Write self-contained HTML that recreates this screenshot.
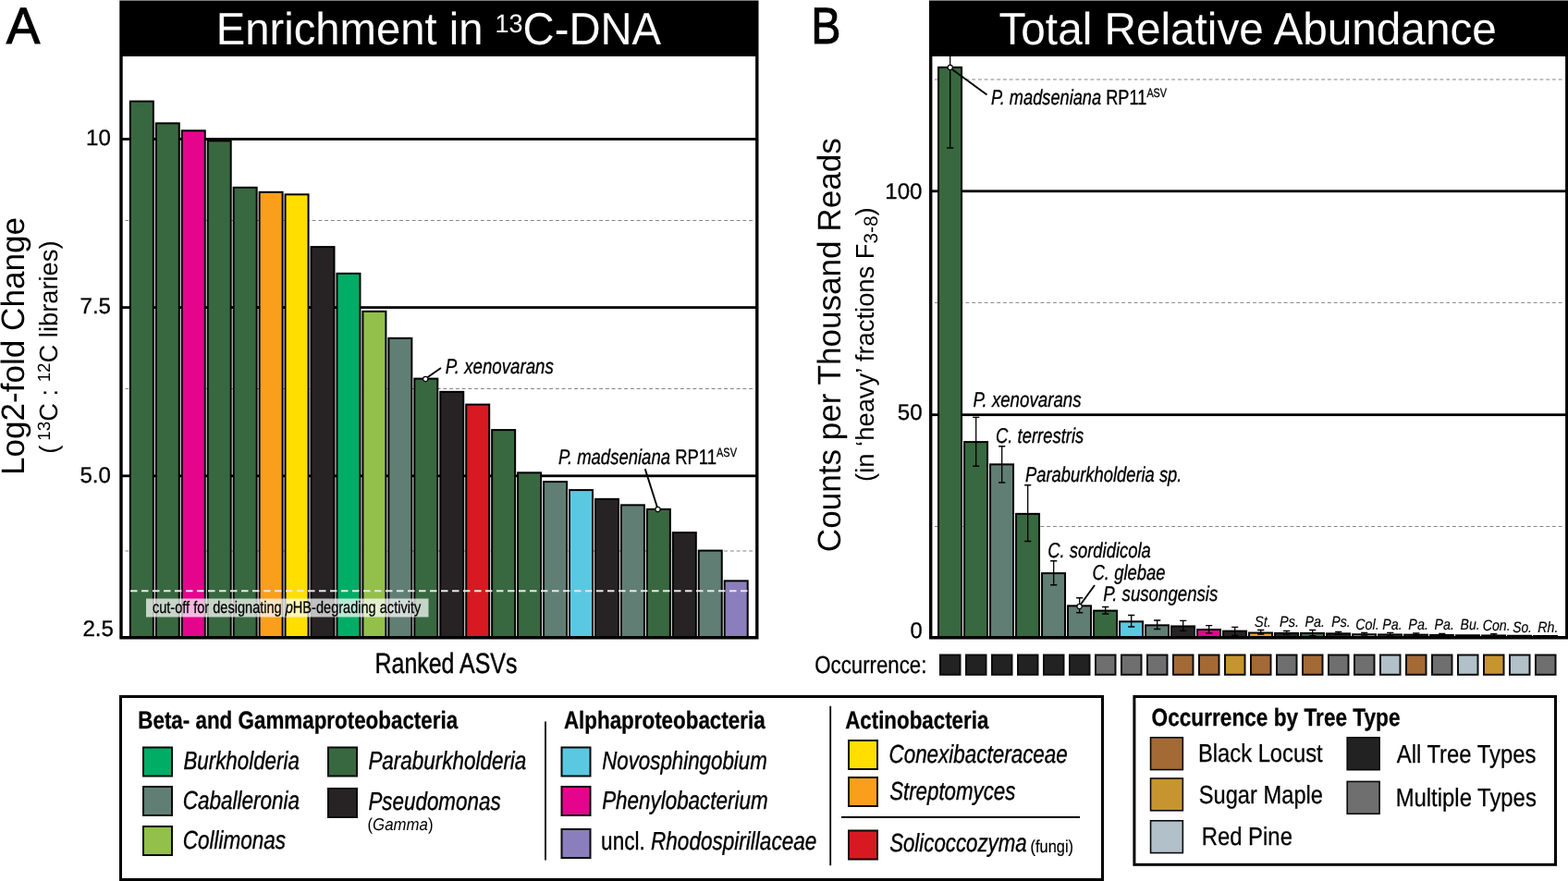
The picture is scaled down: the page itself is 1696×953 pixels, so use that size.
<!DOCTYPE html>
<html lang="en"><head><meta charset="utf-8"><title>Enrichment in 13C-DNA and Total Relative Abundance</title>
<style>
html,body{margin:0;padding:0;background:#fff;}
body{width:1696px;height:953px;overflow:hidden;}
svg{display:block;font-family:'Liberation Sans', sans-serif;}
text{white-space:pre;text-rendering:geometricPrecision;}
</style></head><body>
<svg width="1696" height="953" viewBox="0 0 1696 953">
<rect width="1696" height="953" fill="#fff"/>
<rect x="130.3" y="149.10" width="689.2" height="2.8" fill="#000"/>
<rect x="130.3" y="331.20" width="689.2" height="2.8" fill="#000"/>
<rect x="130.3" y="513.40" width="689.2" height="2.8" fill="#000"/>
<line x1="814.05" y1="238.5" x2="135.5" y2="238.5" stroke="#858585" stroke-width="1" stroke-dasharray="3.9 2.85"/>
<line x1="814.05" y1="420.5" x2="135.5" y2="420.5" stroke="#858585" stroke-width="1" stroke-dasharray="3.9 2.85"/>
<line x1="814.05" y1="596.0" x2="135.5" y2="596.0" stroke="#858585" stroke-width="1" stroke-dasharray="3.9 2.85"/>
<rect x="140.85" y="109.60" width="25.00" height="579.90" fill="#38683f" stroke="#000" stroke-width="2.0"/>
<rect x="168.80" y="133.35" width="25.00" height="556.15" fill="#38683f" stroke="#000" stroke-width="2.0"/>
<rect x="196.75" y="141.35" width="25.00" height="548.15" fill="#e5058d" stroke="#000" stroke-width="2.0"/>
<rect x="224.70" y="152.35" width="25.00" height="537.15" fill="#38683f" stroke="#000" stroke-width="2.0"/>
<rect x="252.65" y="202.85" width="25.00" height="486.65" fill="#38683f" stroke="#000" stroke-width="2.0"/>
<rect x="280.60" y="207.85" width="25.00" height="481.65" fill="#f99f1c" stroke="#000" stroke-width="2.0"/>
<rect x="308.55" y="210.35" width="25.00" height="479.15" fill="#ffde00" stroke="#000" stroke-width="2.0"/>
<rect x="336.50" y="267.10" width="25.00" height="422.40" fill="#272324" stroke="#000" stroke-width="2.0"/>
<rect x="364.45" y="295.85" width="25.00" height="393.65" fill="#00ad66" stroke="#000" stroke-width="2.0"/>
<rect x="392.40" y="336.85" width="25.00" height="352.65" fill="#93bf4b" stroke="#000" stroke-width="2.0"/>
<rect x="420.35" y="365.85" width="25.00" height="323.65" fill="#617e75" stroke="#000" stroke-width="2.0"/>
<rect x="448.30" y="409.60" width="25.00" height="279.90" fill="#38683f" stroke="#000" stroke-width="2.0"/>
<rect x="476.25" y="423.85" width="25.00" height="265.65" fill="#272324" stroke="#000" stroke-width="2.0"/>
<rect x="504.20" y="437.60" width="25.00" height="251.90" fill="#d71a21" stroke="#000" stroke-width="2.0"/>
<rect x="532.15" y="465.10" width="25.00" height="224.40" fill="#38683f" stroke="#000" stroke-width="2.0"/>
<rect x="560.10" y="511.35" width="25.00" height="178.15" fill="#38683f" stroke="#000" stroke-width="2.0"/>
<rect x="588.05" y="521.10" width="25.00" height="168.40" fill="#617e75" stroke="#000" stroke-width="2.0"/>
<rect x="616.00" y="530.10" width="25.00" height="159.40" fill="#5bc8e2" stroke="#000" stroke-width="2.0"/>
<rect x="643.95" y="539.85" width="25.00" height="149.65" fill="#272324" stroke="#000" stroke-width="2.0"/>
<rect x="671.90" y="546.35" width="25.00" height="143.15" fill="#617e75" stroke="#000" stroke-width="2.0"/>
<rect x="699.85" y="550.85" width="25.00" height="138.65" fill="#38683f" stroke="#000" stroke-width="2.0"/>
<rect x="727.80" y="576.10" width="25.00" height="113.40" fill="#272324" stroke="#000" stroke-width="2.0"/>
<rect x="755.75" y="595.60" width="25.00" height="93.90" fill="#617e75" stroke="#000" stroke-width="2.0"/>
<rect x="783.70" y="628.35" width="25.00" height="61.15" fill="#8b7ebc" stroke="#000" stroke-width="2.0"/>
<line x1="141" y1="639.3" x2="809" y2="639.3" stroke="#e8e8e8" stroke-width="2" stroke-dasharray="7.5 4.5"/>
<rect x="158" y="647.5" width="305.5" height="20" fill="#fff" fill-opacity="0.72"/>
<path fill-rule="evenodd" fill="#000" d="M129.3 0.6H820.5V691.5H129.3Z M132.70000000000002 61V688.0H817.1V61Z"/>
<line x1="477" y1="398" x2="460.5" y2="409.5" stroke="#000" stroke-width="1.9"/>
<circle cx="460.25" cy="410" r="2.6" fill="#fff" stroke="#000" stroke-width="1.1"/>
<line x1="697.75" y1="507.25" x2="711.5" y2="550.5" stroke="#000" stroke-width="1.9"/>
<circle cx="711.5" cy="551" r="2.6" fill="#fff" stroke="#000" stroke-width="1.1"/>
<rect x="1006" y="205.40" width="689.5" height="2.8" fill="#000"/>
<rect x="1006" y="447.30" width="689.5" height="2.8" fill="#000"/>
<line x1="1689.6" y1="86.0" x2="1011" y2="86.0" stroke="#858585" stroke-width="1" stroke-dasharray="3.9 2.85"/>
<line x1="1689.6" y1="327.4" x2="1011" y2="327.4" stroke="#858585" stroke-width="1" stroke-dasharray="3.9 2.85"/>
<line x1="1689.6" y1="569.5" x2="1011" y2="569.5" stroke="#858585" stroke-width="1" stroke-dasharray="3.9 2.85"/>
<rect x="1015.05" y="72.85" width="25.00" height="616.65" fill="#38683f" stroke="#000" stroke-width="2.0"/>
<rect x="1043.05" y="478.10" width="25.00" height="211.40" fill="#38683f" stroke="#000" stroke-width="2.0"/>
<rect x="1071.05" y="502.35" width="25.00" height="187.15" fill="#617e75" stroke="#000" stroke-width="2.0"/>
<rect x="1099.05" y="555.85" width="25.00" height="133.65" fill="#38683f" stroke="#000" stroke-width="2.0"/>
<rect x="1127.05" y="620.10" width="25.00" height="69.40" fill="#617e75" stroke="#000" stroke-width="2.0"/>
<rect x="1155.05" y="655.35" width="25.00" height="34.15" fill="#617e75" stroke="#000" stroke-width="2.0"/>
<rect x="1183.05" y="660.60" width="25.00" height="28.90" fill="#38683f" stroke="#000" stroke-width="2.0"/>
<rect x="1211.05" y="672.35" width="25.00" height="17.15" fill="#5bc8e2" stroke="#000" stroke-width="2.0"/>
<rect x="1239.05" y="676.35" width="25.00" height="13.15" fill="#617e75" stroke="#000" stroke-width="2.0"/>
<rect x="1267.05" y="677.45" width="25.00" height="12.05" fill="#272324" stroke="#000" stroke-width="2.0"/>
<rect x="1295.05" y="681.05" width="25.00" height="8.45" fill="#e5058d" stroke="#000" stroke-width="2.0"/>
<rect x="1323.05" y="682.65" width="25.00" height="6.85" fill="#272324" stroke="#000" stroke-width="2.0"/>
<rect x="1351.05" y="684.55" width="25.00" height="4.95" fill="#f99f1c" stroke="#000" stroke-width="2.0"/>
<rect x="1379.05" y="684.95" width="25.00" height="4.55" fill="#272324" stroke="#000" stroke-width="2.0"/>
<rect x="1407.05" y="684.95" width="25.00" height="4.55" fill="#38683f" stroke="#000" stroke-width="2.0"/>
<rect x="1435.05" y="685.35" width="25.00" height="4.15" fill="#272324" stroke="#000" stroke-width="2.0"/>
<rect x="1463.05" y="686.25" width="25.00" height="3.25" fill="#93bf4b" stroke="#000" stroke-width="2.0"/>
<rect x="1491.05" y="686.45" width="25.00" height="3.05" fill="#38683f" stroke="#000" stroke-width="2.0"/>
<rect x="1519.05" y="686.65" width="25.00" height="2.85" fill="#38683f" stroke="#000" stroke-width="2.0"/>
<rect x="1547.05" y="686.95" width="25.00" height="2.55" fill="#38683f" stroke="#000" stroke-width="2.0"/>
<rect x="1575.05" y="687.25" width="25.00" height="2.25" fill="#00ad66" stroke="#000" stroke-width="2.0"/>
<rect x="1603.05" y="687.45" width="25.00" height="2.05" fill="#ffde00" stroke="#000" stroke-width="2.0"/>
<rect x="1631.05" y="687.75" width="25.00" height="1.75" fill="#d71a21" stroke="#000" stroke-width="2.0"/>
<rect x="1659.05" y="687.95" width="25.00" height="1.55" fill="#8b7ebc" stroke="#000" stroke-width="2.0"/>
<path d="M1027.70 55V160M1024.10 55h7.2M1024.10 160h7.2" stroke="#000" stroke-width="1.3" fill="none"/>
<path d="M1055.70 451.3V504.25M1052.10 451.3h7.2M1052.10 504.25h7.2" stroke="#000" stroke-width="1.3" fill="none"/>
<path d="M1083.70 482.75V522M1080.10 482.75h7.2M1080.10 522h7.2" stroke="#000" stroke-width="1.3" fill="none"/>
<path d="M1111.70 524.75V585.5M1108.10 524.75h7.2M1108.10 585.5h7.2" stroke="#000" stroke-width="1.3" fill="none"/>
<path d="M1139.70 606.75V632.75M1136.10 606.75h7.2M1136.10 632.75h7.2" stroke="#000" stroke-width="1.3" fill="none"/>
<path d="M1167.70 646.75V662.75M1164.10 646.75h7.2M1164.10 662.75h7.2" stroke="#000" stroke-width="1.3" fill="none"/>
<path d="M1195.70 656.5V664M1192.10 656.5h7.2M1192.10 664h7.2" stroke="#000" stroke-width="1.3" fill="none"/>
<path d="M1223.70 665.5V678M1220.10 665.5h7.2M1220.10 678h7.2" stroke="#000" stroke-width="1.3" fill="none"/>
<path d="M1251.70 671V680.5M1248.10 671h7.2M1248.10 680.5h7.2" stroke="#000" stroke-width="1.3" fill="none"/>
<path d="M1279.70 671.4V682.4M1276.10 671.4h7.2M1276.10 682.4h7.2" stroke="#000" stroke-width="1.3" fill="none"/>
<path d="M1307.70 676.6V685M1304.10 676.6h7.2M1304.10 685h7.2" stroke="#000" stroke-width="1.3" fill="none"/>
<path d="M1335.70 678.3V687.3M1332.10 678.3h7.2M1332.10 687.3h7.2" stroke="#000" stroke-width="1.3" fill="none"/>
<path d="M1363.70 681.5V686M1360.10 681.5h7.2M1360.10 686h7.2" stroke="#000" stroke-width="1.3" fill="none"/>
<path d="M1391.70 682.5V686M1388.10 682.5h7.2M1388.10 686h7.2" stroke="#000" stroke-width="1.3" fill="none"/>
<path d="M1419.70 681.5V687.7M1416.10 681.5h7.2M1416.10 687.7h7.2" stroke="#000" stroke-width="1.3" fill="none"/>
<path d="M1447.70 683.5V686M1444.10 683.5h7.2M1444.10 686h7.2" stroke="#000" stroke-width="1.3" fill="none"/>
<path d="M1475.70 684.3V687M1472.10 684.3h7.2M1472.10 687h7.2" stroke="#000" stroke-width="1.3" fill="none"/>
<path d="M1503.70 684.3V687M1500.10 684.3h7.2M1500.10 687h7.2" stroke="#000" stroke-width="1.3" fill="none"/>
<path d="M1531.70 685V687.3M1528.10 685h7.2M1528.10 687.3h7.2" stroke="#000" stroke-width="1.3" fill="none"/>
<path d="M1559.70 685.3V687.3M1556.10 685.3h7.2M1556.10 687.3h7.2" stroke="#000" stroke-width="1.3" fill="none"/>
<path d="M1615.70 685.7V687.5M1612.10 685.7h7.2M1612.10 687.5h7.2" stroke="#000" stroke-width="1.3" fill="none"/>
<path fill-rule="evenodd" fill="#000" d="M1005 0.6H1696.5V691.5H1005Z M1008.4 61V688.0H1693.1V61Z"/>
<line x1="1067.5" y1="102.5" x2="1028.5" y2="74" stroke="#000" stroke-width="1.9"/>
<circle cx="1027.75" cy="73" r="2.6" fill="#fff" stroke="#000" stroke-width="1.1"/>
<line x1="1184" y1="633" x2="1168" y2="655" stroke="#000" stroke-width="1.9"/>
<circle cx="1167.6" cy="656" r="2.6" fill="#fff" stroke="#000" stroke-width="1.1"/>
<rect x="1017.00" y="708.5" width="21.5" height="21.3" fill="#222222" stroke="#0c0c0c" stroke-width="2"/>
<rect x="1045.00" y="708.5" width="21.5" height="21.3" fill="#222222" stroke="#0c0c0c" stroke-width="2"/>
<rect x="1073.00" y="708.5" width="21.5" height="21.3" fill="#222222" stroke="#0c0c0c" stroke-width="2"/>
<rect x="1101.00" y="708.5" width="21.5" height="21.3" fill="#222222" stroke="#0c0c0c" stroke-width="2"/>
<rect x="1129.00" y="708.5" width="21.5" height="21.3" fill="#222222" stroke="#0c0c0c" stroke-width="2"/>
<rect x="1157.00" y="708.5" width="21.5" height="21.3" fill="#222222" stroke="#0c0c0c" stroke-width="2"/>
<rect x="1185.00" y="708.5" width="21.5" height="21.3" fill="#6f6f6f" stroke="#0c0c0c" stroke-width="2"/>
<rect x="1213.00" y="708.5" width="21.5" height="21.3" fill="#6f6f6f" stroke="#0c0c0c" stroke-width="2"/>
<rect x="1241.00" y="708.5" width="21.5" height="21.3" fill="#6f6f6f" stroke="#0c0c0c" stroke-width="2"/>
<rect x="1269.00" y="708.5" width="21.5" height="21.3" fill="#a36a36" stroke="#0c0c0c" stroke-width="2"/>
<rect x="1297.00" y="708.5" width="21.5" height="21.3" fill="#a36a36" stroke="#0c0c0c" stroke-width="2"/>
<rect x="1325.00" y="708.5" width="21.5" height="21.3" fill="#c6952f" stroke="#0c0c0c" stroke-width="2"/>
<rect x="1353.00" y="708.5" width="21.5" height="21.3" fill="#a36a36" stroke="#0c0c0c" stroke-width="2"/>
<rect x="1381.00" y="708.5" width="21.5" height="21.3" fill="#6f6f6f" stroke="#0c0c0c" stroke-width="2"/>
<rect x="1409.00" y="708.5" width="21.5" height="21.3" fill="#a36a36" stroke="#0c0c0c" stroke-width="2"/>
<rect x="1437.00" y="708.5" width="21.5" height="21.3" fill="#6f6f6f" stroke="#0c0c0c" stroke-width="2"/>
<rect x="1465.00" y="708.5" width="21.5" height="21.3" fill="#6f6f6f" stroke="#0c0c0c" stroke-width="2"/>
<rect x="1493.00" y="708.5" width="21.5" height="21.3" fill="#b1c0c9" stroke="#0c0c0c" stroke-width="2"/>
<rect x="1521.00" y="708.5" width="21.5" height="21.3" fill="#a36a36" stroke="#0c0c0c" stroke-width="2"/>
<rect x="1549.00" y="708.5" width="21.5" height="21.3" fill="#6f6f6f" stroke="#0c0c0c" stroke-width="2"/>
<rect x="1577.00" y="708.5" width="21.5" height="21.3" fill="#b1c0c9" stroke="#0c0c0c" stroke-width="2"/>
<rect x="1605.00" y="708.5" width="21.5" height="21.3" fill="#c6952f" stroke="#0c0c0c" stroke-width="2"/>
<rect x="1633.00" y="708.5" width="21.5" height="21.3" fill="#b1c0c9" stroke="#0c0c0c" stroke-width="2"/>
<rect x="1661.00" y="708.5" width="21.5" height="21.3" fill="#6f6f6f" stroke="#0c0c0c" stroke-width="2"/>
<rect x="130.5" y="753.5" width="1062" height="198" fill="#fff" stroke="#000" stroke-width="3"/>
<rect x="1226.9" y="753.5" width="455.5999999999999" height="181.79999999999995" fill="#fff" stroke="#000" stroke-width="3"/>
<line x1="590" y1="780.5" x2="590" y2="930.5" stroke="#000" stroke-width="1.8"/>
<line x1="898.2" y1="763.75" x2="898.2" y2="936.25" stroke="#000" stroke-width="1.8"/>
<line x1="910" y1="884" x2="1168" y2="884" stroke="#000" stroke-width="1.8"/>
<rect x="155.0" y="808.5" width="31.0" height="31.0" fill="#00ad66" stroke="#0a0a0a" stroke-width="2.0"/>
<rect x="155.0" y="851.0" width="31.0" height="31.0" fill="#617e75" stroke="#0a0a0a" stroke-width="2.0"/>
<rect x="155.0" y="894.0" width="31.0" height="31.0" fill="#93bf4b" stroke="#0a0a0a" stroke-width="2.0"/>
<rect x="355.0" y="808.5" width="31.0" height="31.0" fill="#38683f" stroke="#0a0a0a" stroke-width="2.0"/>
<rect x="355.0" y="853.0" width="31.0" height="31.0" fill="#272324" stroke="#0a0a0a" stroke-width="2.0"/>
<rect x="607.5" y="808.5" width="31.0" height="31.0" fill="#5bc8e2" stroke="#0a0a0a" stroke-width="2.0"/>
<rect x="607.5" y="851.0" width="31.0" height="31.0" fill="#e5058d" stroke="#0a0a0a" stroke-width="2.0"/>
<rect x="607.5" y="897.0" width="31.0" height="31.0" fill="#8b7ebc" stroke="#0a0a0a" stroke-width="2.0"/>
<rect x="918.0" y="801.0" width="31.0" height="31.0" fill="#ffde00" stroke="#0a0a0a" stroke-width="2.0"/>
<rect x="918.0" y="841.0" width="31.0" height="31.0" fill="#f99f1c" stroke="#0a0a0a" stroke-width="2.0"/>
<rect x="918.0" y="898.5" width="31.0" height="31.0" fill="#d71a21" stroke="#0a0a0a" stroke-width="2.0"/>
<rect x="1244.55" y="797.8" width="34.8" height="34.8" fill="#a36a36" stroke="#0a0a0a" stroke-width="1.6"/>
<rect x="1244.55" y="842.0" width="34.8" height="34.8" fill="#c6952f" stroke="#0a0a0a" stroke-width="1.6"/>
<rect x="1244.55" y="887.8" width="34.8" height="34.8" fill="#b1c0c9" stroke="#0a0a0a" stroke-width="1.6"/>
<rect x="1457.2" y="797.8" width="34.9" height="34.9" fill="#222222" stroke="#0a0a0a" stroke-width="1.6"/>
<rect x="1457.2" y="845.4" width="34.9" height="34.9" fill="#6f6f6f" stroke="#0a0a0a" stroke-width="1.6"/>
<text transform="translate(6.80,47.30) scale(0.9896,1)" font-size="55.5" fill="#000" stroke="#000" stroke-width="1.0" stroke-linejoin="miter"><tspan>A</tspan></text>
<text transform="translate(877.33,47.30) scale(0.8698,1)" font-size="55.5" fill="#000" stroke="#000" stroke-width="1.0" stroke-linejoin="miter"><tspan>B</tspan></text>
<text transform="translate(233.81,48.20) scale(0.9634,1)" font-size="49" fill="#fff"><tspan>Enrichment in </tspan><tspan font-size="28" dy="-13">13</tspan><tspan dy="13">C-DNA</tspan></text>
<text transform="translate(1080.50,48.20) scale(0.9734,1)" font-size="49" fill="#fff"><tspan>Total Relative Abundance</tspan></text>
<text transform="translate(93.10,156.90) scale(1.0000,1)" font-size="24.1" fill="#000" stroke="#000" stroke-width="0.3" stroke-linejoin="miter"><tspan>10</tspan></text>
<text transform="translate(86.50,339.30) scale(1.0000,1)" font-size="24.1" fill="#000" stroke="#000" stroke-width="0.3" stroke-linejoin="miter"><tspan>7.5</tspan></text>
<text transform="translate(86.40,521.50) scale(1.0000,1)" font-size="24.1" fill="#000" stroke="#000" stroke-width="0.3" stroke-linejoin="miter"><tspan>5.0</tspan></text>
<text transform="translate(89.40,688.00) scale(1.0000,1)" font-size="24.1" fill="#000" stroke="#000" stroke-width="0.3" stroke-linejoin="miter"><tspan>2.5</tspan></text>
<text transform="translate(957.29,214.80) scale(1.0000,1)" font-size="24.1" fill="#000" stroke="#000" stroke-width="0.3" stroke-linejoin="miter"><tspan>100</tspan></text>
<text transform="translate(970.80,454.30) scale(1.0000,1)" font-size="24.1" fill="#000" stroke="#000" stroke-width="0.3" stroke-linejoin="miter"><tspan>50</tspan></text>
<text transform="translate(984.42,689.75) scale(0.9828,1)" font-size="24.1" fill="#000" stroke="#000" stroke-width="0.3" stroke-linejoin="miter"><tspan>0</tspan></text>
<text transform="translate(405.55,727.50) scale(0.8095,1)" font-size="30.8" fill="#000" stroke="#000" stroke-width="0.44" stroke-linejoin="round"><tspan>Ranked ASVs</tspan></text>
<text transform="translate(881.26,728.00) scale(0.8490,1)" font-size="26.2" fill="#000" stroke="#000" stroke-width="0.30" stroke-linejoin="round"><tspan>Occurrence:</tspan></text>
<text transform="translate(481.68,403.50) scale(0.8203,1)" font-size="22.8" fill="#000" stroke="#000" stroke-width="0.31" stroke-linejoin="round"><tspan font-style="italic">P. xenovarans</tspan></text>
<text transform="translate(603.93,501.75) scale(0.8117,1)" font-size="22.8" fill="#000" stroke="#000" stroke-width="0.32" stroke-linejoin="round"><tspan font-style="italic">P. madseniana</tspan><tspan> RP11</tspan><tspan font-size="13.5" dy="-8">ASV</tspan></text>
<text transform="translate(1071.94,113.00) scale(0.7991,1)" font-size="22.8" fill="#000" stroke="#000" stroke-width="0.34" stroke-linejoin="round"><tspan font-style="italic">P. madseniana</tspan><tspan> RP11</tspan><tspan font-size="13.5" dy="-8">ASV</tspan></text>
<text transform="translate(1052.43,440.00) scale(0.8200,1)" font-size="22.8" fill="#000" stroke="#000" stroke-width="0.31" stroke-linejoin="round"><tspan font-style="italic">P. xenovarans</tspan></text>
<text transform="translate(1077.03,478.50) scale(0.8089,1)" font-size="22.8" fill="#000" stroke="#000" stroke-width="0.33" stroke-linejoin="round"><tspan font-style="italic">C. terrestris</tspan></text>
<text transform="translate(1108.94,521.00) scale(0.8057,1)" font-size="22.8" fill="#000" stroke="#000" stroke-width="0.33" stroke-linejoin="round"><tspan font-style="italic">Paraburkholderia sp.</tspan></text>
<text transform="translate(1133.28,602.75) scale(0.8074,1)" font-size="22.8" fill="#000" stroke="#000" stroke-width="0.33" stroke-linejoin="round"><tspan font-style="italic">C. sordidicola</tspan></text>
<text transform="translate(1181.53,626.75) scale(0.8105,1)" font-size="22.8" fill="#000" stroke="#000" stroke-width="0.32" stroke-linejoin="round"><tspan font-style="italic">C. glebae</tspan></text>
<text transform="translate(1193.18,649.75) scale(0.8185,1)" font-size="22.8" fill="#000" stroke="#000" stroke-width="0.31" stroke-linejoin="round"><tspan font-style="italic">P. susongensis</tspan></text>
<text transform="translate(1356.63,678.00) scale(0.9135,1)" font-size="16.5" fill="#000"><tspan font-style="italic">St.</tspan></text>
<text transform="translate(1384.06,678.00) scale(0.8780,1)" font-size="16.5" fill="#000" stroke="#000" stroke-width="0.15" stroke-linejoin="round"><tspan font-style="italic">Ps.</tspan></text>
<text transform="translate(1411.57,678.00) scale(0.8639,1)" font-size="16.5" fill="#000" stroke="#000" stroke-width="0.17" stroke-linejoin="round"><tspan font-style="italic">Pa.</tspan></text>
<text transform="translate(1440.32,678.00) scale(0.8546,1)" font-size="16.5" fill="#000" stroke="#000" stroke-width="0.18" stroke-linejoin="round"><tspan font-style="italic">Ps.</tspan></text>
<text transform="translate(1466.22,681.00) scale(0.8693,1)" font-size="16.5" fill="#000" stroke="#000" stroke-width="0.16" stroke-linejoin="round"><tspan font-style="italic">Col.</tspan></text>
<text transform="translate(1495.32,681.00) scale(0.8639,1)" font-size="16.5" fill="#000" stroke="#000" stroke-width="0.17" stroke-linejoin="round"><tspan font-style="italic">Pa.</tspan></text>
<text transform="translate(1523.31,681.00) scale(0.8752,1)" font-size="16.5" fill="#000" stroke="#000" stroke-width="0.15" stroke-linejoin="round"><tspan font-style="italic">Pa.</tspan></text>
<text transform="translate(1551.57,681.00) scale(0.8639,1)" font-size="16.5" fill="#000" stroke="#000" stroke-width="0.17" stroke-linejoin="round"><tspan font-style="italic">Pa.</tspan></text>
<text transform="translate(1579.57,681.00) scale(0.8527,1)" font-size="16.5" fill="#000" stroke="#000" stroke-width="0.18" stroke-linejoin="round"><tspan font-style="italic">Bu.</tspan></text>
<text transform="translate(1603.73,682.25) scale(0.8602,1)" font-size="16.5" fill="#000" stroke="#000" stroke-width="0.17" stroke-linejoin="round"><tspan font-style="italic">Con.</tspan></text>
<text transform="translate(1636.16,683.50) scale(0.8377,1)" font-size="16.5" fill="#000" stroke="#000" stroke-width="0.20" stroke-linejoin="round"><tspan font-style="italic">So.</tspan></text>
<text transform="translate(1663.32,683.50) scale(0.8624,1)" font-size="16.5" fill="#000" stroke="#000" stroke-width="0.17" stroke-linejoin="round"><tspan font-style="italic">Rh.</tspan></text>
<text transform="translate(164.93,663.00) scale(0.8090,1)" font-size="18" fill="#000" stroke="#000" stroke-width="0.26" stroke-linejoin="round"><tspan>cut-off for designating </tspan><tspan font-style="italic">p</tspan><tspan>HB-degrading activity</tspan></text>
<text transform="translate(149.30,788.00) scale(0.8448,1)" font-size="26.5" fill="#000" font-weight="bold" stroke="#000" stroke-width="0.31" stroke-linejoin="round"><tspan>Beta- and Gammaproteobacteria</tspan></text>
<text transform="translate(609.90,788.00) scale(0.8448,1)" font-size="26.5" fill="#000" font-weight="bold" stroke="#000" stroke-width="0.31" stroke-linejoin="round"><tspan>Alphaproteobacteria</tspan></text>
<text transform="translate(914.15,788.00) scale(0.8432,1)" font-size="26.5" fill="#000" font-weight="bold" stroke="#000" stroke-width="0.31" stroke-linejoin="round"><tspan>Actinobacteria</tspan></text>
<text transform="translate(1245.54,785.00) scale(0.8548,1)" font-size="26.5" fill="#000" font-weight="bold" stroke="#000" stroke-width="0.29" stroke-linejoin="round"><tspan>Occurrence by Tree Type</tspan></text>
<text transform="translate(198.40,832.00) scale(0.8123,1)" font-size="27.5" fill="#000" stroke="#000" stroke-width="0.39" stroke-linejoin="round"><tspan font-style="italic">Burkholderia</tspan></text>
<text transform="translate(197.70,875.00) scale(0.8184,1)" font-size="27.5" fill="#000" stroke="#000" stroke-width="0.37" stroke-linejoin="round"><tspan font-style="italic">Caballeronia</tspan></text>
<text transform="translate(197.69,918.00) scale(0.8190,1)" font-size="27.5" fill="#000" stroke="#000" stroke-width="0.37" stroke-linejoin="round"><tspan font-style="italic">Collimonas</tspan></text>
<text transform="translate(398.40,832.00) scale(0.8161,1)" font-size="27.5" fill="#000" stroke="#000" stroke-width="0.38" stroke-linejoin="round"><tspan font-style="italic">Paraburkholderia</tspan></text>
<text transform="translate(398.40,876.25) scale(0.8145,1)" font-size="27.5" fill="#000" stroke="#000" stroke-width="0.38" stroke-linejoin="round"><tspan font-style="italic">Pseudomonas</tspan></text>
<text transform="translate(397.50,897.50) scale(0.9085,1)" font-size="18.5" fill="#000"><tspan>(</tspan><tspan font-style="italic">Gamma</tspan><tspan>)</tspan></text>
<text transform="translate(651.15,832.00) scale(0.8116,1)" font-size="27.5" fill="#000" stroke="#000" stroke-width="0.39" stroke-linejoin="round"><tspan font-style="italic">Novosphingobium</tspan></text>
<text transform="translate(651.15,875.00) scale(0.8151,1)" font-size="27.5" fill="#000" stroke="#000" stroke-width="0.38" stroke-linejoin="round"><tspan font-style="italic">Phenylobacterium</tspan></text>
<text transform="translate(650.09,919.00) scale(0.8202,1)" font-size="27.5" fill="#000" stroke="#000" stroke-width="0.37" stroke-linejoin="round"><tspan>uncl. </tspan><tspan font-style="italic">Rhodospirillaceae</tspan></text>
<text transform="translate(961.45,824.50) scale(0.8160,1)" font-size="27.5" fill="#000" stroke="#000" stroke-width="0.38" stroke-linejoin="round"><tspan font-style="italic">Conexibacteraceae</tspan></text>
<text transform="translate(962.15,864.50) scale(0.8101,1)" font-size="27.5" fill="#000" stroke="#000" stroke-width="0.39" stroke-linejoin="round"><tspan font-style="italic">Streptomyces</tspan></text>
<text transform="translate(962.15,921.25) scale(0.8092,1)" font-size="27.5" fill="#000" stroke="#000" stroke-width="0.39" stroke-linejoin="round"><tspan font-style="italic">Solicoccozyma</tspan></text>
<text transform="translate(1114.55,922.30) scale(0.8619,1)" font-size="19" fill="#000" stroke="#000" stroke-width="0.20" stroke-linejoin="round"><tspan>(fungi)</tspan></text>
<text transform="translate(1295.89,824.25) scale(0.8645,1)" font-size="27.5" fill="#000" stroke="#000" stroke-width="0.28" stroke-linejoin="round"><tspan>Black Locust</tspan></text>
<text transform="translate(1296.76,868.75) scale(0.8607,1)" font-size="27.5" fill="#000" stroke="#000" stroke-width="0.29" stroke-linejoin="round"><tspan>Sugar Maple</tspan></text>
<text transform="translate(1299.63,914.25) scale(0.8692,1)" font-size="27.5" fill="#000" stroke="#000" stroke-width="0.27" stroke-linejoin="round"><tspan>Red Pine</tspan></text>
<text transform="translate(1510.75,825.00) scale(0.8670,1)" font-size="27.5" fill="#000" stroke="#000" stroke-width="0.27" stroke-linejoin="round"><tspan>All Tree Types</tspan></text>
<text transform="translate(1509.63,872.00) scale(0.8683,1)" font-size="27.5" fill="#000" stroke="#000" stroke-width="0.27" stroke-linejoin="round"><tspan>Multiple Types</tspan></text>
<text transform="translate(26.10,514.04) rotate(-90) scale(0.9975,1)" font-size="35.2" fill="#000"><tspan>Log2-fold Change</tspan></text>
<text transform="translate(62.40,490.78) rotate(-90) scale(0.9868,1)" font-size="27.7" fill="#000"><tspan>(</tspan><tspan font-size="19" dy="-8" dx="5">13</tspan><tspan dy="8">C : </tspan><tspan font-size="19" dy="-8">12</tspan><tspan dy="8">C libraries)</tspan></text>
<text transform="translate(908.90,597.14) rotate(-90) scale(0.9969,1)" font-size="35.2" fill="#000"><tspan>Counts per Thousand Reads</tspan></text>
<text transform="translate(944.90,520.88) rotate(-90) scale(0.9881,1)" font-size="27.7" fill="#000"><tspan>(in ‘heavy’ fractions F</tspan><tspan font-size="21" dy="4">3-8</tspan><tspan dy="-4">)</tspan></text>
</svg>
</body></html>
